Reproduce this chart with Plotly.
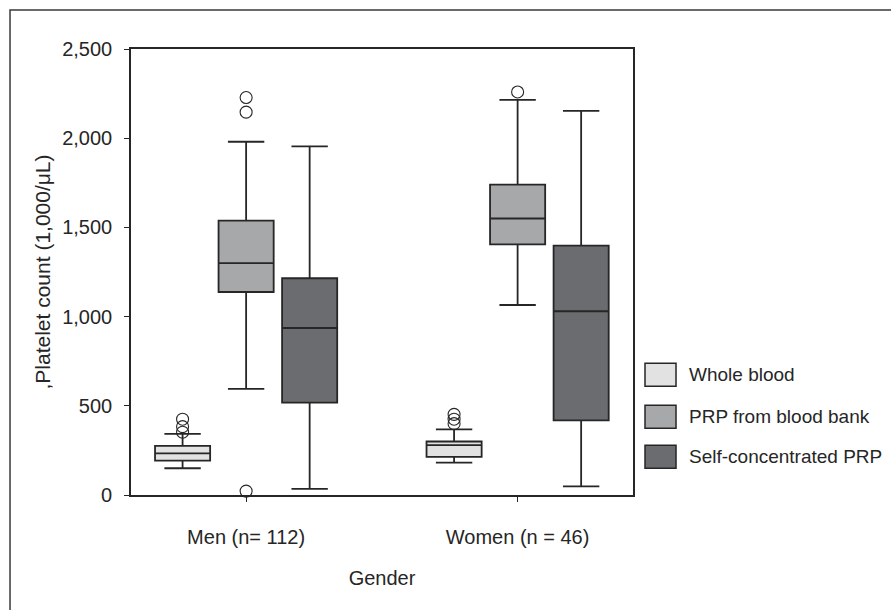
import plotly.graph_objects as go

# Categories and series
groups = ["Men (n= 112)", "Women (n = 46)"]
series = ["Whole blood", "PRP from blood bank", "Self-concentrated PRP"]
fill_colors = ["#e2e2e3", "#a7a8aa", "#6b6c6f"]

# Box summaries per series, ordered [men, women] (platelets, 1,000/uL)
wb_lower = [150, 181]
wb_q1 = [193, 214]
wb_median = [233, 280]
wb_q3 = [275, 300]
wb_upper = [343, 368]
wb_outliers = [[425, 383, 352], [452, 425, 400]]

bank_lower = [595, 1065]
bank_q1 = [1138, 1405]
bank_median = [1300, 1550]
bank_q3 = [1538, 1740]
bank_upper = [1980, 2215]
bank_outliers = [[2228, 2146, 22], [2259]]

self_lower = [34, 48]
self_q1 = [518, 418]
self_median = [936, 1030]
self_q3 = [1215, 1398]
self_upper = [1954, 2153]
self_outliers = [[], []]

y_ticks = [0, 500, 1000, 1500, 2000, 2500]

stats = [
    (wb_lower, wb_q1, wb_median, wb_q3, wb_upper, wb_outliers),
    (bank_lower, bank_q1, bank_median, bank_q3, bank_upper, bank_outliers),
    (self_lower, self_q1, self_median, self_q3, self_upper, self_outliers),
]

FONT = "Liberation Sans, Arial, sans-serif"
INK = "#262626"
SPACING = 0.234   # distance between neighbouring boxes inside a group
BOX_W = 0.203     # box width in axis units

fig = go.Figure()

for k, (name, color, st) in enumerate(zip(series, fill_colors, stats)):
    lo, q1, med, q3, up, outl = st
    pos = [g + (k - 1) * SPACING for g in range(len(groups))]
    fig.add_trace(go.Box(
        x=pos, q1=q1, median=med, q3=q3, lowerfence=lo, upperfence=up,
        name=name, width=BOX_W, whiskerwidth=0.66,
        fillcolor=color, line=dict(color=INK, width=1.8),
        boxpoints=False, showlegend=False, hoverinfo="skip",
    ))
    ox, oy = [], []
    for g, vals in enumerate(outl):
        ox += [pos[g]] * len(vals)
        oy += vals
    if oy:
        fig.add_trace(go.Scatter(
            x=ox, y=oy, mode="markers", showlegend=False, cliponaxis=False,
            marker=dict(symbol="circle-open", size=12, color=INK,
                        line=dict(width=1.1, color=INK)),
        ))

# Legend drawn as swatches with labels to the right of the plot
legend_x0, legend_x1, text_x = 1.0239, 1.0857, 1.1076
row_centers = [0.2698, 0.1756, 0.0859]
half_h = 0.0258
shapes = []
annotations = []
for name, color, yc in zip(series, fill_colors, row_centers):
    shapes.append(dict(type="rect", xref="paper", yref="paper",
                       x0=legend_x0, x1=legend_x1, y0=yc - half_h, y1=yc + half_h,
                       fillcolor=color, line=dict(color=INK, width=1.5)))
    annotations.append(dict(xref="paper", yref="paper", x=text_x, y=yc,
                            xanchor="left", yanchor="middle", text=name,
                            showarrow=False, font=dict(size=19, color=INK, family=FONT)))

# Outer frame around the figure
shapes.append(dict(type="rect", xref="paper", yref="paper",
                   x0=-0.241, x1=1.7, y0=-0.6, y1=1.0874,
                   line=dict(color="#3a3a3a", width=1.5), fillcolor="rgba(0,0,0,0)",
                   layer="below"))

fig.update_layout(
    width=891, height=610,
    margin=dict(l=131, r=258, t=49, b=115),
    paper_bgcolor="white", plot_bgcolor="white",
    boxmode="overlay",
    font=dict(family=FONT, size=20, color=INK),
    shapes=shapes, annotations=annotations,
    showlegend=False,
)
fig.update_xaxes(
    range=[-0.424, 1.425], tickvals=list(range(len(groups))), ticktext=groups,
    showline=True, linecolor=INK, linewidth=1.6, mirror=True,
    ticks="outside", ticklen=5, tickcolor=INK, showgrid=False, zeroline=False,
    ticklabelstandoff=18,
    title=dict(text="Gender", standoff=24, font=dict(size=20)),
)
fig.update_yaxes(
    range=[0, 2500], tickvals=y_ticks, tickformat=",d",
    showline=True, linecolor=INK, linewidth=1.6, mirror=True,
    ticks="outside", ticklen=5, tickcolor=INK, showgrid=False, zeroline=False,
    ticklabelstandoff=8,
    title=dict(text=",Platelet count (1,000/μL)", standoff=6, font=dict(size=21)),
)

fig.write_html("out.html")
